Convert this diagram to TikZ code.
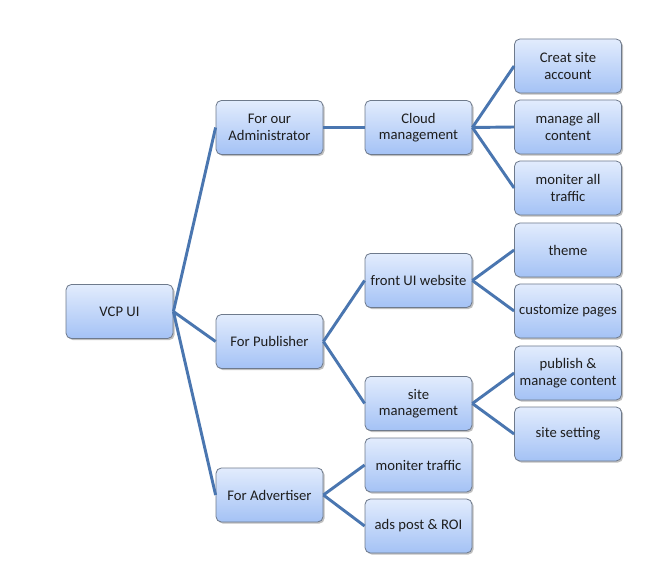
\documentclass[tikz,border=0pt]{standalone}
\usepackage{fontspec}
\setmainfont{Carlito}
\usetikzlibrary{shadows}
\definecolor{linkc}{RGB}{74,118,176}
\definecolor{boxtop}{RGB}{226,236,253}
\definecolor{boxbot}{RGB}{164,194,245}
\definecolor{boxedge}{RGB}{110,122,140}
\definecolor{txtc}{RGB}{30,30,30}
\tikzset{
  box/.style={draw=boxedge, line width=0.6pt, rounded corners=4pt,
    top color=boxtop, bottom color=boxbot,
    minimum width=107*0.75pt, minimum height=54*0.75pt,
    inner sep=1pt, align=center, text=txtc,
    font=\fontsize{11}{12.3}\selectfont,
    drop shadow={shadow xshift=1.2pt, shadow yshift=-1.2pt, opacity=0.25, fill=black}},
  link/.style={draw=linkc, line width=2.2pt}
}
\begin{document}
\begin{tikzpicture}[x=0.75pt,y=-0.75pt]
\useasboundingbox (0,0) rectangle (667,573);
\node[box] (vcp) at (119.5,311.5) {VCP UI};
\node[box] (adm) at (269.5,127.5) {For our\\Administrator};
\node[box] (pub) at (269.5,341.5) {For Publisher};
\node[box] (adv) at (269.5,495) {For Advertiser};
\node[box] (cloud) at (418.5,127.5) {Cloud\\management};
\node[box] (front) at (418.5,280.5) {front UI website};
\node[box] (sitem) at (418.5,403.5) {site\\management};
\node[box] (mtraf) at (418.5,465) {moniter traffic};
\node[box] (ads) at (418.5,526) {ads post \& ROI};
\node[box] (creat) at (568,66) {Creat site\\account};
\node[box] (mall) at (568,127) {manage all\\content};
\node[box] (mon) at (568,188) {moniter all\\traffic};
\node[box] (theme) at (568,250) {theme};
\node[box] (cust) at (568,311) {customize pages};
\node[box] (publ) at (568,373) {publish \&\\manage content};
\node[box] (sset) at (568,434) {site setting};
\draw[link] (vcp.east) -- (adm.west);
\draw[link] (vcp.east) -- (pub.west);
\draw[link] (vcp.east) -- (adv.west);
\draw[link] (adm.east) -- (cloud.west);
\draw[link] (pub.east) -- (front.west);
\draw[link] (pub.east) -- (sitem.west);
\draw[link] (adv.east) -- (mtraf.west);
\draw[link] (adv.east) -- (ads.west);
\draw[link] (cloud.east) -- (creat.west);
\draw[link] (cloud.east) -- (mall.west);
\draw[link] (cloud.east) -- (mon.west);
\draw[link] (front.east) -- (theme.west);
\draw[link] (front.east) -- (cust.west);
\draw[link] (sitem.east) -- (publ.west);
\draw[link] (sitem.east) -- (sset.west);
\end{tikzpicture}
\end{document}
